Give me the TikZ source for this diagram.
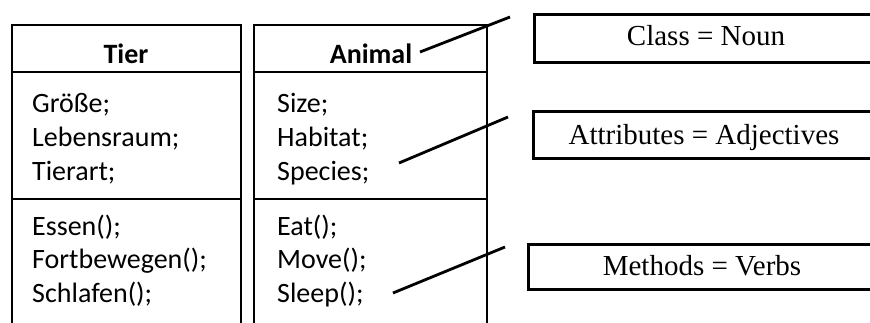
\documentclass[tikz,border=0pt]{standalone}
\usepackage{fontspec}
\setmainfont{Liberation Serif}
\newfontfamily\calfont{Carlito}
\begin{document}
\begin{tikzpicture}[x=1pt,y=-1pt,
  frame/.style={line width=2.6pt},
  rule/.style={line width=2pt},
  ctext/.style={font=\calfont\fontsize{28}{34}\selectfont, inner sep=0pt, anchor=base west},
  chead/.style={font=\calfont\bfseries\fontsize{28}{34}\selectfont, inner sep=0pt, anchor=base},
  lbox/.style={draw, line width=2.5pt, anchor=north west, minimum width=380pt, inner sep=0pt},
  ltext/.style={font=\fontsize{29}{34}\selectfont, inner sep=0pt, anchor=base},
  conn/.style={line width=2.8pt}]
\useasboundingbox (0,0) rectangle (870,322);
\clip (0,0) rectangle (870,322);
% left table (Tier)
\draw[frame] (12,25) -- (12,330);
\draw[frame] (241,25) -- (241,330);
\draw[rule] (11,25) -- (242,25);
\draw[rule] (11,72) -- (242,72);
\draw[rule] (11,199) -- (242,199);
% right table (Animal)
\draw[frame] (254,25) -- (254,330);
\draw[frame] (487,25) -- (487,330);
\draw[rule] (253,25) -- (488,25);
\draw[rule] (253,72) -- (488,72);
\draw[rule] (253,199) -- (488,199);
% left texts
\node[chead] (tier) at (126,63) {Tier};
\node[ctext] (t1) at (32,112) {Größe;};
\node[ctext] (t2) at (32,146) {Lebensraum;};
\node[ctext] (t3) at (32,180) {Tierart;};
\node[ctext] (t4) at (32,235) {Essen();};
\node[ctext] (t5) at (32,268.5) {Fortbewegen();};
\node[ctext] (t6) at (32,302) {Schlafen();};
% right texts
\node[chead] (animal) at (371,63) {Animal};
\node[ctext] (a1) at (277,112) {Size;};
\node[ctext] (a2) at (277,146) {Habitat;};
\node[ctext] (a3) at (277,180) {Species;};
\node[ctext] (a4) at (277,235) {Eat();};
\node[ctext] (a5) at (277,268.5) {Move();};
\node[ctext] (a6) at (277,302) {Sleep();};
% label boxes
\node[lbox, minimum height=48pt] (b1) at (533,13) {};
\node[lbox, minimum height=47pt] (b2) at (532,110) {};
\node[lbox, minimum height=45pt] (b3) at (527,243) {};
\node[ltext] (l1) at (706,45) {Class = Noun};
\node[ltext] (l2) at (704,144) {Attributes = Adjectives};
\node[ltext] (l3) at (702,275) {Methods = Verbs};
% connectors
\coordinate (s1) at (420,52);
\coordinate (e1) at (510,17);
\coordinate (s2) at (399,163);
\coordinate (e2) at (508,117);
\coordinate (s3) at (393,293);
\coordinate (e3) at (505,247);
\draw[conn] (s1) -- (e1);
\draw[conn] (s2) -- (e2);
\draw[conn] (s3) -- (e3);
\end{tikzpicture}
\end{document}
